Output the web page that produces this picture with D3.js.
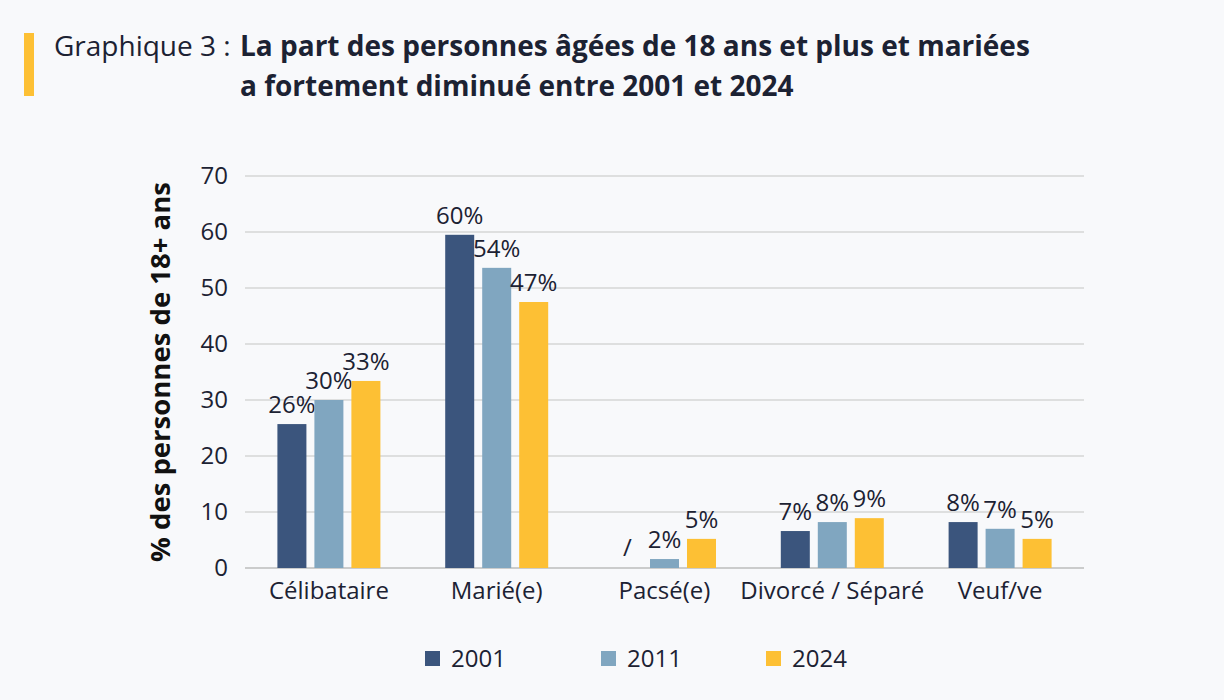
<!DOCTYPE html>
<html>
<head>
<meta charset="utf-8">
<script src="https://cdn.jsdelivr.net/npm/d3@7"></script>
<style>
  body { margin: 0; background: #f8f9fb; }
  svg { font-family: "Open Sans", sans-serif; }
</style>
</head>
<body>
<div id="chart"></div>
<script>
const categories = ["Célibataire", "Marié(e)", "Pacsé(e)", "Divorcé / Séparé", "Veuf/ve"];
const years = ["2001", "2011", "2024"];
const values2001 = [25.7, 59.5, null, 6.6, 8.2];
const values2011 = [30.0, 53.6, 1.6, 8.2, 7.0];
const values2024 = [33.4, 47.5, 5.2, 8.9, 5.2];
const labels2001 = ["26%", "60%", "/", "7%", "8%"];
const labels2011 = ["30%", "54%", "2%", "8%", "7%"];
const labels2024 = ["33%", "47%", "5%", "9%", "5%"];
const yTicks = [0, 10, 20, 30, 40, 50, 60, 70];

const colors = { "2001": "#3b557d", "2011": "#80a6c0", "2024": "#fdc034" };
const series = { "2001": values2001, "2011": values2011, "2024": values2024 };
const seriesLabels = { "2001": labels2001, "2011": labels2011, "2024": labels2024 };

const width = 1224, height = 700;
const svg = d3.select("#chart").append("svg")
  .attr("width", width).attr("height", height);

// title
svg.append("rect").attr("x", 24).attr("y", 33).attr("width", 10).attr("height", 63).attr("fill", "#fdc034");
const title = svg.append("text").attr("x", 54).attr("y", 56).attr("font-size", 28).attr("fill", "#1c2233");
title.append("tspan").text("Graphique 3 : ");
title.append("tspan").attr("x", 240).attr("font-weight", "bold").text("La part des personnes âgées de 18 ans et plus et mariées");
svg.append("text").attr("x", 240).attr("y", 96).attr("font-size", 28).attr("font-weight", "bold")
  .attr("fill", "#1c2233").text("a fortement diminué entre 2001 et 2024");

const x0 = d3.scaleBand().domain(categories).range([245, 1084]);
const x1 = d3.scaleBand().domain(years).range([0, x0.bandwidth()])
  .paddingInner(0.216).paddingOuter(0.876);
const y = d3.scaleLinear().domain([0, 70]).range([568, 176]);

// grid
svg.append("g").selectAll("line").data(yTicks).enter().append("line")
  .attr("x1", 245).attr("x2", 1084)
  .attr("y1", d => y(d)).attr("y2", d => y(d))
  .attr("stroke", d => d === 0 ? "#bdbdbd" : "#d6d6d6").attr("stroke-width", 1.5);

const yAxis = svg.append("g").attr("transform", "translate(245,0)")
  .call(d3.axisLeft(y).tickValues(yTicks).tickSize(0).tickPadding(17));
yAxis.select(".domain").remove();
yAxis.selectAll("text").attr("font-size", 24).attr("fill", "#1c2233").attr("font-family", "Open Sans");

svg.append("text")
  .attr("transform", `translate(170,${y(35)}) rotate(-90)`)
  .attr("text-anchor", "middle").attr("font-size", 27.5).attr("font-weight", "bold")
  .attr("fill", "#111").text("% des personnes de 18+ ans");

// x labels
const xAxis = svg.append("g").attr("transform", "translate(0,568)")
  .call(d3.axisBottom(x0).tickSize(0).tickPadding(14));
xAxis.select(".domain").remove();
xAxis.selectAll("text").attr("font-size", 24).attr("fill", "#1c2233").attr("font-family", "Open Sans");

// bars
const groups = svg.append("g").selectAll("g").data(categories).enter().append("g")
  .attr("transform", d => `translate(${x0(d)},0)`);

years.forEach(yr => {
  groups.filter((d, i) => series[yr][i] != null).append("rect")
    .attr("x", x1(yr)).attr("width", x1.bandwidth())
    .attr("y", d => y(series[yr][categories.indexOf(d)]))
    .attr("height", d => y(0) - y(series[yr][categories.indexOf(d)]))
    .attr("fill", colors[yr]);
  groups.append("text")
    .attr("x", x1(yr) + x1.bandwidth() / 2)
    .attr("y", d => y(series[yr][categories.indexOf(d)] || 0) - 11 - (series[yr][categories.indexOf(d)] == null ? 1 : 0))
    .attr("text-anchor", "middle").attr("font-size", 24).attr("fill", "#1c2233")
    .text(d => seriesLabels[yr][categories.indexOf(d)]);
});

// legend
const legendX = { "2001": 425, "2011": 601, "2024": 766 };
const legend = svg.append("g").selectAll("g").data(years).enter().append("g")
  .attr("transform", d => `translate(${legendX[d]},651)`);
legend.append("rect").attr("width", 15).attr("height", 15).attr("fill", d => colors[d]);
legend.append("text").attr("x", 26).attr("y", 16).attr("font-size", 24).attr("fill", "#1c2233").text(d => d);
</script>
</body>
</html>
